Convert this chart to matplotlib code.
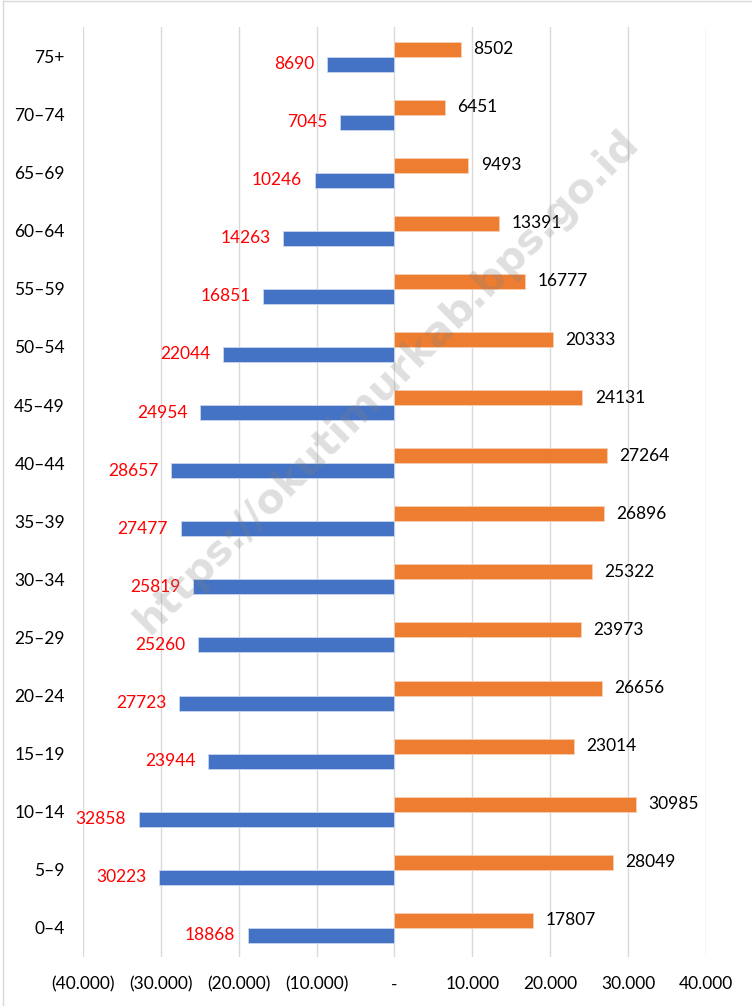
import matplotlib.pyplot as plt
import numpy as np
from matplotlib.ticker import FuncFormatter
from matplotlib.lines import Line2D

# Age groups, bottom to top
age_groups = ["0–4", "5–9", "10–14", "15–19", "20–24", "25–29", "30–34", "35–39",
              "40–44", "45–49", "50–54", "55–59", "60–64", "65–69", "70–74", "75+"]
male = [18868, 30223, 32858, 23944, 27723, 25260, 25819, 27477,
        28657, 24954, 22044, 16851, 14263, 10246, 7045, 8690]
female = [17807, 28049, 30985, 23014, 26656, 23973, 25322, 26896,
          27264, 24131, 20333, 16777, 13391, 9493, 6451, 8502]
x_ticks = [-40000, -30000, -20000, -10000, 0, 10000, 20000, 30000, 40000]

plt.rcParams['font.family'] = ['Lato', 'DejaVu Sans']

fig = plt.figure(figsize=(7.52, 10.06), dpi=100)
ax = fig.add_axes([0.1104, 0.0487, 0.8284, 0.9240])

y = np.arange(len(age_groups))
h = 0.258

ax.barh(y - h / 2, [-v for v in male], height=h, color='#4472C4',
        edgecolor='#c9d6ee', linewidth=0.6, zorder=2)
ax.barh(y + h / 2, female, height=h, color='#ED7D31',
        edgecolor='#f8cfb3', linewidth=0.6, zorder=2)

for yi, v in zip(y, male):
    ax.annotate(str(v), (-v, yi - h / 2), xytext=(-9, 0), textcoords='offset points',
                ha='right', va='center', color='#FF0000', fontsize=12.5)
for yi, v in zip(y, female):
    ax.annotate(str(v), (v, yi + h / 2), xytext=(9, 0), textcoords='offset points',
                ha='left', va='center', color='black', fontsize=12.5)


def fmt(v, pos):
    if v == 0:
        return "-"
    s = f"{abs(int(v)):,}".replace(",", ".")
    return f"({s})" if v < 0 else s


ax.set_xlim(-40000, 40000)
ax.set_ylim(-0.5, len(age_groups) - 0.5)
ax.set_xticks(x_ticks)
ax.xaxis.set_major_formatter(FuncFormatter(fmt))
ax.set_yticks(y)
ax.set_yticklabels(age_groups)
ax.tick_params(axis='both', length=0, labelsize=12.5, colors='black')
ax.tick_params(axis='x', pad=14)
ax.tick_params(axis='y', pad=13)
ax.grid(axis='x', color='#d9d9d9', linewidth=1, zorder=0)
ax.set_axisbelow(True)
for s in ax.spines.values():
    s.set_visible(False)

# watermark
fig.text(0.515, 0.62, "https://okutimurkab.bps.go.id", rotation=45,
         ha='center', va='center', fontsize=29.5, fontweight='bold',
         color='#808080', alpha=0.25, family='DejaVu Sans', zorder=10)

# chart border (top and left visible)
fig.add_artist(Line2D([0.004, 0.004], [0, 0.999], transform=fig.transFigure,
                      color='#d9d9d9', linewidth=1))
fig.add_artist(Line2D([0.004, 1], [0.999, 0.999], transform=fig.transFigure,
                      color='#d9d9d9', linewidth=1))

fig.savefig("out.png", dpi=100)
